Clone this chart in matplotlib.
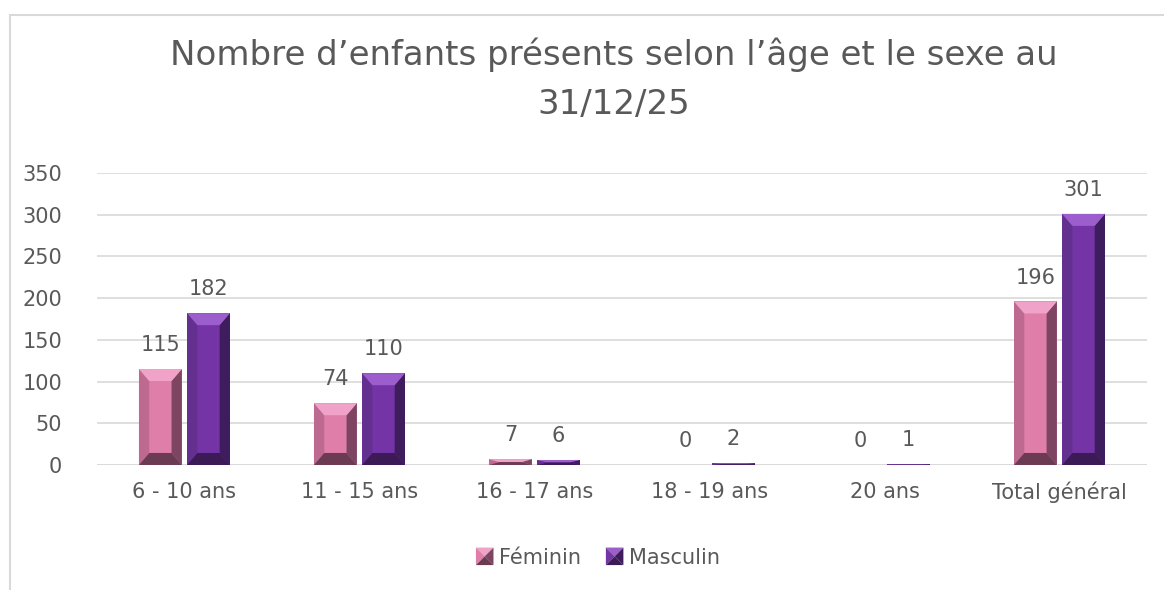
import matplotlib.pyplot as plt
import numpy as np
from matplotlib.patches import Polygon, Rectangle
from matplotlib.legend_handler import HandlerBase

categories = ['6 - 10 ans', '11 - 15 ans', '16 - 17 ans', '18 - 19 ans', '20 ans', 'Total général']
feminin = [115, 74, 7, 0, 0, 196]
masculin = [182, 110, 6, 2, 1, 301]
series_names = ['Féminin', 'Masculin']

title = "Nombre d\u2019enfants présents selon l\u2019âge et le sexe au\n31/12/25"

# face, left, right, top, bottom shades
pink = ['#DE7EA9', '#BE6990', '#7D4562', '#F0A2C8', '#6B3A53']
purple = ['#7434A6', '#63308F', '#3F1C5E', '#9B5ECC', '#3C1A55']
text_col = '#595959'

plt.rcParams['font.family'] = ['DejaVu Sans']

fig = plt.figure(figsize=(11.64, 5.90), dpi=100)
ax = fig.add_axes([0.0833, 0.2119, 0.9021, 0.4949])

# outer chart border
fig.patches.append(Rectangle((10 / 1164, -0.1), 1.2, 1 - 15 / 590 + 0.1,
                             transform=fig.transFigure, fill=False,
                             edgecolor='#D9D9D9', linewidth=1.5))

x = np.arange(len(categories))
w = 0.245
gap = 0.03


def bevel(ax, bars, shades, ypix_unit):
    for b in bars:
        x0, bw, h = b.get_x(), b.get_width(), b.get_height()
        if h <= 0:
            continue
        x1 = x0 + bw
        dx = 0.24 * bw
        dy = min(12 / ypix_unit, h / 2)
        polys = [
            ([(x0, 0), (x0, h), (x0 + dx, h - dy), (x0 + dx, dy)], shades[1]),
            ([(x1, 0), (x1, h), (x1 - dx, h - dy), (x1 - dx, dy)], shades[2]),
            ([(x0, h), (x1, h), (x1 - dx, h - dy), (x0 + dx, h - dy)], shades[3]),
            ([(x0, 0), (x1, 0), (x1 - dx, dy), (x0 + dx, dy)], shades[4]),
        ]
        for pts, c in polys:
            ax.add_patch(Polygon(pts, closed=True, facecolor=c, edgecolor='none', zorder=3))


class BevelHandler(HandlerBase):
    def __init__(self, shades):
        super().__init__()
        self.shades = shades

    def create_artists(self, legend, orig_handle, xdescent, ydescent, width, height, fontsize, trans):
        s = min(width, height) * 1.1
        x0, y0 = -xdescent + (width - s) / 2, -ydescent + (height - s) / 2
        x1, y1 = x0 + s, y0 + s
        cx, cy = x0 + s / 2, y0 + s / 2
        c = self.shades
        tris = [
            ([(x0, y1), (x1, y1), (cx, cy)], c[3]),
            ([(x0, y0), (x0, y1), (cx, cy)], c[0]),
            ([(x1, y0), (x1, y1), (cx, cy)], c[2]),
            ([(x0, y0), (x1, y0), (cx, cy)], c[4]),
        ]
        arts = []
        for pts, col in tris:
            p = Polygon(pts, closed=True, facecolor=col, edgecolor='none', transform=trans)
            arts.append(p)
        return arts


b1 = ax.bar(x - w / 2 - gap / 2, feminin, w, color=pink[0], zorder=2, label=series_names[0])
b2 = ax.bar(x + w / 2 + gap / 2, masculin, w, color=purple[0], zorder=2, label=series_names[1])

ax.set_ylim(0, 350)
ax.set_xlim(-0.5, len(categories) - 0.5)
ypix = 292 / 350
bevel(ax, b1, pink, ypix)
bevel(ax, b2, purple, ypix)

for bars, vals in [(b1, feminin), (b2, masculin)]:
    for b, v in zip(bars, vals):
        ax.annotate(str(v), (b.get_x() + b.get_width() / 2, v), xytext=(0, 10),
                    textcoords='offset points', ha='center', va='bottom',
                    fontsize=15, color=text_col)

ax.set_yticks(np.arange(0, 351, 50))
ax.yaxis.grid(True, color='#D9D9D9', linewidth=1.2, zorder=0)
ax.set_axisbelow(True)
ax.set_xticks(x)
ax.set_xticklabels(categories)
ax.tick_params(axis='both', length=0, labelsize=15, labelcolor=text_col)
ax.tick_params(axis='x', pad=12)
ax.tick_params(axis='y', pad=25)
for s in ax.spines.values():
    s.set_visible(False)
ax.axhline(0, color='#D9D9D9', linewidth=1.2, zorder=1)

fig.text(0.527, 0.866, title, ha='center', va='center', fontsize=24.5,
         color=text_col, linespacing=1.6)

leg = fig.legend(handles=[b1, b2], loc='center', bbox_to_anchor=(0.514, 0.055),
                 ncol=2, frameon=False, fontsize=15, handlelength=0.8,
                 handleheight=0.8, handletextpad=0.3, columnspacing=1.2,
                 handler_map={b1: BevelHandler(pink), b2: BevelHandler(purple)})
for t in leg.get_texts():
    t.set_color(text_col)

fig.savefig('out.png', dpi=100, facecolor='white')
